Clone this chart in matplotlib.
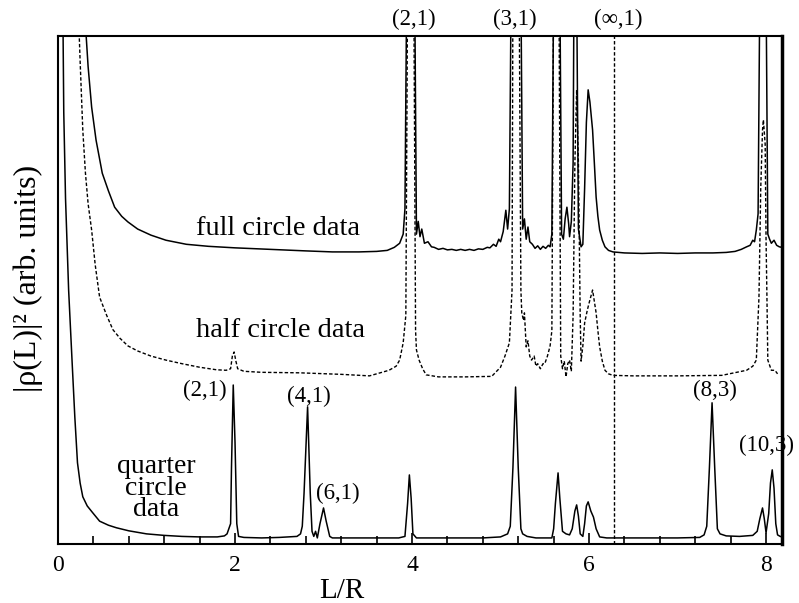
import numpy as np
import matplotlib
matplotlib.use("Agg")
import matplotlib.pyplot as plt
from matplotlib.ticker import MultipleLocator

plt.rcParams['font.family'] = ['Liberation Serif', 'DejaVu Serif']

# full circle data (solid, upper curve)
full_x = [0.30, 0.34, 0.38, 0.43, 0.50, 0.57, 0.64, 0.72, 0.79, 0.90, 1.05, 1.22, 1.45,
          1.70, 2.00, 2.40, 2.80, 3.10, 3.40, 3.60, 3.72, 3.80, 3.86, 3.90, 3.92, 3.94,
          4.03, 4.05, 4.07, 4.09, 4.11, 4.14, 4.18, 4.22, 4.25, 4.30, 4.35, 4.40, 4.45,
          4.50, 4.55, 4.60, 4.65, 4.70, 4.75, 4.80, 4.85, 4.88, 4.92, 4.95, 4.98, 5.00,
          5.03, 5.06, 5.08, 5.10, 5.12, 5.23, 5.25, 5.27, 5.29, 5.31, 5.33, 5.36, 5.39,
          5.42, 5.45, 5.48, 5.51, 5.54, 5.56, 5.58, 5.60, 5.67, 5.69, 5.71, 5.73, 5.75,
          5.77, 5.78, 5.80, 5.82, 5.83, 5.86, 5.88, 5.91, 5.93, 5.95, 5.97, 5.99, 6.01,
          6.04, 6.06, 6.08, 6.10, 6.12, 6.15, 6.18, 6.22, 6.27, 6.40, 6.60, 6.80, 7.00,
          7.20, 7.40, 7.55, 7.65, 7.72, 7.78, 7.82, 7.85, 7.87, 7.89, 7.91, 7.93, 8.00,
          8.02, 8.04, 8.06, 8.09, 8.12, 8.15, 8.18]
full_y = [10.5, 9.4, 8.6, 7.95, 7.3, 6.95, 6.63, 6.45, 6.34, 6.20, 6.08, 5.98, 5.90,
          5.86, 5.83, 5.80, 5.77, 5.75, 5.75, 5.76, 5.78, 5.84, 5.92, 6.10, 6.60, 11.0,
          11.0, 6.10, 6.35, 6.05, 6.20, 5.92, 5.95, 5.85, 5.84, 5.80, 5.82, 5.79, 5.80,
          5.78, 5.80, 5.78, 5.80, 5.78, 5.81, 5.80, 5.84, 5.83, 5.90, 5.86, 6.00, 5.95,
          6.15, 6.57, 6.20, 6.60, 11.0, 11.0, 6.20, 6.40, 6.00, 6.24, 5.95, 5.90, 5.82,
          5.87, 5.80, 5.86, 5.82, 5.88, 5.85, 6.10, 11.0, 11.0, 6.10, 6.00, 6.40, 6.63,
          6.30, 6.05, 6.35, 7.50, 11.0, 11.0, 6.20, 5.85, 5.90, 7.00, 8.30, 8.94, 8.70,
          8.15, 7.50, 6.83, 6.45, 6.18, 5.98, 5.85, 5.78, 5.75, 5.73, 5.72, 5.73, 5.72,
          5.73, 5.73, 5.74, 5.76, 5.80, 5.85, 5.88, 5.98, 5.95, 6.18, 6.50, 11.0, 11.0,
          6.10, 6.00, 5.92, 5.98, 5.88, 5.85, 5.84]

# half circle data (dashed, middle curve)
half_x = [0.23, 0.25, 0.28, 0.31, 0.34, 0.38, 0.42, 0.47, 0.55, 0.62, 0.70, 0.79, 0.90,
          1.05, 1.22, 1.40, 1.60, 1.79, 1.90, 1.95, 1.97, 1.99, 2.01, 2.03, 2.10, 2.30,
          2.73, 3.20, 3.52, 3.74, 3.82, 3.86, 3.90, 3.93, 3.95, 4.02, 4.04, 4.05, 4.08,
          4.12, 4.16, 4.30, 4.60, 4.90, 5.00, 5.05, 5.10, 5.13, 5.14, 5.21, 5.23, 5.24,
          5.26, 5.27, 5.29, 5.31, 5.33, 5.35, 5.38, 5.40, 5.42, 5.45, 5.48, 5.50, 5.53,
          5.56, 5.58, 5.60, 5.66, 5.68, 5.70, 5.72, 5.74, 5.76, 5.78, 5.80, 5.82, 5.84,
          5.86, 5.88, 5.90, 5.91, 5.93, 5.95, 5.98, 6.00, 6.04, 6.08, 6.10, 6.12, 6.15,
          6.18, 6.22, 6.27, 6.50, 7.00, 7.50, 7.78, 7.85, 7.89, 7.92, 7.94, 7.96, 7.97,
          7.99, 8.00, 8.01, 8.02, 8.06, 8.10, 8.13]
half_y = [10.5, 9.5, 8.15, 7.30, 6.70, 6.18, 5.50, 4.86, 4.50, 4.22, 4.05, 3.90, 3.80,
          3.70, 3.62, 3.55, 3.48, 3.43, 3.42, 3.45, 3.70, 3.78, 3.60, 3.45, 3.40, 3.38,
          3.37, 3.34, 3.31, 3.42, 3.50, 3.62, 3.96, 4.50, 11.0, 11.0, 4.20, 3.82, 3.62,
          3.45, 3.33, 3.29, 3.29, 3.30, 3.48, 3.70, 3.96, 5.00, 11.0, 11.0, 5.00, 4.55,
          4.40, 4.55, 3.88, 4.00, 3.70, 3.62, 3.70, 3.50, 3.55, 3.45, 3.55, 3.55, 3.70,
          3.90, 4.20, 11.0, 11.0, 3.70, 3.45, 3.60, 3.29, 3.55, 3.62, 3.40, 4.50, 7.50,
          8.94, 7.50, 4.50, 3.60, 3.90, 4.35, 4.60, 4.74, 5.00, 4.55, 4.20, 3.88, 3.60,
          3.42, 3.35, 3.32, 3.31, 3.31, 3.32, 3.42, 3.50, 3.62, 4.86, 7.00, 8.15, 8.35,
          7.87, 6.00, 4.86, 3.62, 3.42, 3.42, 3.35]

# quarter circle data (solid, lower curve)
quarter_x = [0.055, 0.065, 0.085, 0.12, 0.16, 0.19, 0.22, 0.25, 0.28, 0.33, 0.39, 0.47,
             0.57, 0.66, 0.80, 1.00, 1.20, 1.40, 1.60, 1.80, 1.88, 1.91, 1.93, 1.95, 1.96,
             1.98, 2.00, 2.02, 2.04, 2.10, 2.30, 2.50, 2.70, 2.74, 2.76, 2.78, 2.82, 2.85,
             2.87, 2.89, 2.91, 2.93, 2.96, 3.00, 3.03, 3.07, 3.10, 3.30, 3.60, 3.85, 3.92,
             3.95, 3.97, 3.99, 4.01, 4.05, 4.40, 4.80, 5.00, 5.08, 5.11, 5.14, 5.17, 5.20,
             5.23, 5.25, 5.30, 5.40, 5.58, 5.60, 5.62, 5.65, 5.67, 5.70, 5.74, 5.78, 5.81,
             5.84, 5.86, 5.88, 5.90, 5.93, 5.95, 5.97, 5.99, 6.02, 6.05, 6.08, 6.12, 6.20,
             7.00, 7.25, 7.30, 7.33, 7.36, 7.39, 7.42, 7.45, 7.48, 7.55, 7.70, 7.85, 7.90,
             7.93, 7.96, 7.98, 8.00, 8.03, 8.05, 8.07, 8.09, 8.11, 8.13, 8.16, 8.18]
quarter_y = [10.5, 8.5, 6.8, 5.0, 3.56, 2.5, 1.6, 1.2, 0.93, 0.75, 0.62, 0.45,
             0.37, 0.32, 0.26, 0.20, 0.17, 0.15, 0.14, 0.14, 0.16, 0.20, 0.30, 0.40, 1.50,
             3.13, 2.00, 0.40, 0.15, 0.13, 0.12, 0.13, 0.15, 0.20, 0.35, 1.00, 2.70, 1.00,
             0.25, 0.15, 0.25, 0.12, 0.40, 0.71, 0.45, 0.15, 0.12, 0.12, 0.12, 0.12, 0.15,
             0.80, 1.36, 0.90, 0.20, 0.12, 0.12, 0.12, 0.14, 0.20, 0.35, 1.50, 3.09, 1.50,
             0.30, 0.20, 0.15, 0.12, 0.12, 0.30, 0.80, 1.40, 0.90, 0.25, 0.20, 0.18, 0.30,
             0.65, 0.77, 0.55, 0.20, 0.15, 0.40, 0.75, 0.83, 0.65, 0.53, 0.30, 0.14, 0.12,
             0.12, 0.13, 0.18, 0.35, 1.50, 2.78, 1.50, 0.30, 0.20, 0.16, 0.15, 0.17, 0.25,
             0.50, 0.71, 0.50, 0.22, 0.60, 1.20, 1.46, 1.10, 0.40, 0.18, 0.15, 0.14]

# peak labels: (text, x, y)
top_labels = [("(2,1)", 4.02, 10.33), ("(3,1)", 5.16, 10.33), ("(\u221e,1)", 6.33, 10.33)]
quarter_labels = [("(2,1)", 1.66, 3.03), ("(4,1)", 2.83, 2.90), ("(6,1)", 3.16, 1.00),
                  ("(8,3)", 7.42, 3.03), ("(10,3)", 8.00, 1.95)]

fig = plt.figure(figsize=(7.99, 6.03), dpi=100)
ax = fig.add_axes([0.0726, 0.0978, 0.9061, 0.8425])

ax.plot(full_x, full_y, color='black', lw=1.1)
ax.plot(half_x, half_y, color='black', lw=1.0, linestyle=(0, (2.5, 1.5)))
ax.plot(quarter_x, quarter_y, color='black', lw=1.1)
ax.axvline(2 * np.pi, color='black', lw=1.0, linestyle=(0, (2.5, 1.5)))

ax.set_xlim(0, 8.18)
ax.set_ylim(0, 10)
ax.xaxis.set_major_locator(MultipleLocator(2))
ax.xaxis.set_minor_locator(MultipleLocator(0.4))
ax.tick_params(axis='x', which='both', direction='in', top=False, labelsize=17, pad=8)
ax.tick_params(axis='x', which='major', length=8, width=1.2)
ax.tick_params(axis='x', which='minor', length=6, width=1.2)
ax.set_yticks([])
for s in ax.spines.values():
    s.set_linewidth(1.5)
ax.spines['right'].set_linewidth(2.5)

ax.text(2.48, 6.22, "full circle data", fontsize=20.5, ha='center', va='center')
ax.text(2.51, 4.21, "half circle data", fontsize=20.5, ha='center', va='center')
ax.text(1.11, 1.10, "quarter\ncircle\ndata", fontsize=20, ha='center', va='center',
        linespacing=0.82)
for t, x, y in top_labels + quarter_labels:
    ax.text(x, y, t, fontsize=16.5, ha='center', va='center')

fig.text(342 / 799, 1 - 591 / 603, "L/R", fontsize=21, ha='center', va='center')
fig.text(28 / 799, 1 - 278 / 603, "|\u03c1(L)|\u00b2 (arb. units)", fontsize=23,
         rotation=90, ha='center', va='center')

fig.savefig("out.png", dpi=100)
